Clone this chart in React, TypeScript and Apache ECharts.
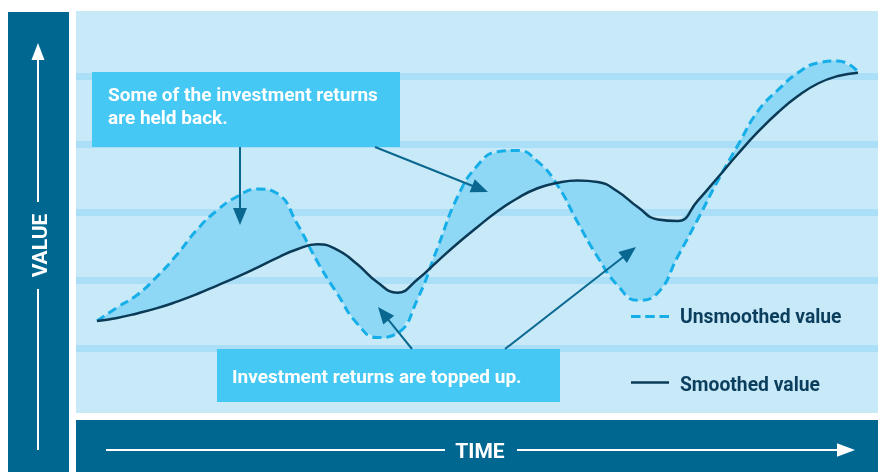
import React, { useEffect, useRef } from 'react';
import * as echarts from 'echarts';

// ---- data ----
const seriesNames = ['Unsmoothed value', 'Smoothed value'];
const unsmoothedValue = [
  14.04, 16.03, 17.87, 20.59, 23.82, 27.49, 30.32, 32.35, 33.46, 32.79,
  28.31, 22.79, 18.04, 13.65, 11.62, 12.25, 17.24, 24.78, 32.28, 36.91,
  38.94, 39.12, 37.53, 33.97, 28.56, 23.46, 19.26, 17.09, 18.16, 23.53,
  29.0, 34.68, 39.88, 44.9, 48.01, 50.54, 51.99, 52.28, 50.71,
];
const smoothedValue = [
  14.04, 14.49, 15.16, 15.93, 16.9, 18.01, 19.26, 20.54, 21.91, 23.34,
  24.59, 25.32, 24.51, 22.38, 19.74, 18.21, 20.15, 22.82, 25.44, 27.87,
  30.18, 32.1, 33.57, 34.37, 34.71, 34.49, 33.09, 30.81, 28.97, 28.75,
  31.76, 35.15, 38.6, 41.84, 44.71, 47.13, 48.97, 50.07, 50.56,
];
const timeIndex = unsmoothedValue.map((_, i) => i);
const valueAxisMax = 60;
const valueAxisInterval = 10;
const heldBackLines = ['Some of the investment returns', 'are held back.'];
const toppedUpText = 'Investment returns are topped up.';
const valueTitle = 'VALUE';
const timeTitle = 'TIME';

// ---- colours ----
const BAR = '#006890';
const PLOT_BG = '#c7e9f8';
const STRIPE = '#aadff7';
const FILL = '#8fd8f5';
const DASH = '#16aee8';
const SOLID = '#0b3a57';
const CALLOUT = '#45c8f4';
const ARROW = '#0a6890';
const LEGEND_TEXT = '#0b3d5c';
const FONT = 'Roboto';

function arrow(x1: number, y1: number, x2: number, y2: number, color: string, lw: number, headLen: number, headHalf: number, z: number) {
  const dx = x2 - x1;
  const dy = y2 - y1;
  const L = Math.hypot(dx, dy);
  const ux = dx / L;
  const uy = dy / L;
  const bx = x2 - ux * headLen;
  const by = y2 - uy * headLen;
  const px = -uy;
  const py = ux;
  return [
    { type: 'line', z, silent: true, shape: { x1, y1, x2: bx + ux * 2, y2: by + uy * 2 }, style: { stroke: color, lineWidth: lw } },
    {
      type: 'polygon', z, silent: true,
      shape: { points: [[x2, y2], [bx + px * headHalf, by + py * headHalf], [bx - px * headHalf, by - py * headHalf]] },
      style: { fill: color },
    },
  ];
}

function txt(x: number, y: number, text: string, size: number, color: string, align: string, z: number, rotation = 0) {
  return {
    type: 'text', x, y, z, rotation, silent: true,
    style: {
      text, fill: color, fontSize: size, fontWeight: 'bold', fontFamily: FONT,
      align, verticalAlign: 'middle', textAlign: align, textVerticalAlign: 'middle',
    },
  };
}

export default function App() {
  const ref = useRef<HTMLDivElement>(null);
  useEffect(() => {
    const chart = echarts.init(ref.current!, null, { renderer: 'svg', width: 878, height: 472 });
    const graphic: any[] = [
      // frames
      { type: 'rect', z: -10, silent: true, shape: { x: 76, y: 11, width: 802, height: 402 }, style: { fill: PLOT_BG } },
      { type: 'rect', z: 20, silent: true, shape: { x: 8, y: 12, width: 61, height: 460 }, style: { fill: BAR } },
      { type: 'rect', z: 20, silent: true, shape: { x: 76, y: 420, width: 802, height: 52 }, style: { fill: BAR } },
      // VALUE axis title
      { type: 'line', z: 21, silent: true, shape: { x1: 38, y1: 450, x2: 38, y2: 289 }, style: { stroke: '#fff', lineWidth: 2 } },
      ...arrow(38, 202, 38, 43, '#fff', 2, 17, 6.5, 21),
      txt(39.6, 245.5, valueTitle, 21, '#fff', 'center', 21, Math.PI / 2),
      // TIME axis title
      { type: 'line', z: 21, silent: true, shape: { x1: 106, y1: 450, x2: 445, y2: 450 }, style: { stroke: '#fff', lineWidth: 2 } },
      ...arrow(517, 450, 855, 450, '#fff', 2, 18, 6.7, 21),
      txt(480, 451, timeTitle, 21, '#fff', 'center', 21),
      // callouts
      { type: 'rect', z: 10, silent: true, shape: { x: 92, y: 72, width: 308, height: 75 }, style: { fill: CALLOUT } },
      txt(108, 94.5, heldBackLines[0], 19, '#fff', 'left', 11),
      txt(108, 117.5, heldBackLines[1], 19, '#fff', 'left', 11),
      { type: 'rect', z: 10, silent: true, shape: { x: 217, y: 349, width: 343, height: 53 }, style: { fill: CALLOUT } },
      txt(232, 376.5, toppedUpText, 19, '#fff', 'left', 11),
      // annotation arrows
      ...arrow(240, 147, 240, 225, ARROW, 2, 17, 7, 12),
      ...arrow(375, 147, 488, 192, ARROW, 2, 17, 7, 12),
      ...arrow(412, 349, 378, 307, ARROW, 2, 17, 7, 12),
      ...arrow(505, 349, 636, 247, ARROW, 2, 17, 7, 12),
      // legend
      { type: 'line', z: 12, silent: true, shape: { x1: 631, y1: 316.5, x2: 669, y2: 316.5 }, style: { stroke: DASH, lineWidth: 3, lineDash: [9.5, 4.75] } },
      txt(680, 316.2, seriesNames[0], 19.3, LEGEND_TEXT, 'left', 12),
      { type: 'line', z: 12, silent: true, shape: { x1: 631, y1: 382.5, x2: 669, y2: 382.5 }, style: { stroke: SOLID, lineWidth: 2.5 } },
      txt(680, 384, seriesNames[1], 19.3, LEGEND_TEXT, 'left', 12),
    ];

    const option: any = {
      animation: false,
      grid: [
        { left: 97, right: 20, top: 8.5, bottom: 55.5 },
        { left: 76, right: 0, top: 8.5, bottom: 55.5 },
      ],
      xAxis: [
        { type: 'value', gridIndex: 0, min: 0, max: timeIndex.length - 1, show: false },
        { type: 'value', gridIndex: 1, min: 0, max: 1, show: false },
      ],
      yAxis: [
        { type: 'value', gridIndex: 0, min: 0, max: valueAxisMax, interval: valueAxisInterval, show: false },
        {
          type: 'value', gridIndex: 1, min: 0, max: valueAxisMax, interval: valueAxisInterval,
          axisLine: { show: false }, axisTick: { show: false }, axisLabel: { show: false },
          splitLine: { show: true, showMinLine: false, showMaxLine: false, lineStyle: { color: STRIPE, width: 7 } },
        },
      ],
      graphic: { elements: graphic },
      series: [
        {
          type: 'custom',
          name: 'gap',
          xAxisIndex: 0, yAxisIndex: 0,
          z: 1, silent: true,
          data: [[0, 0]],
          renderItem: (_params: any, api: any) => {
            const pts: number[][] = [];
            timeIndex.forEach((t) => pts.push(api.coord([t, unsmoothedValue[t]])));
            for (let k = timeIndex.length - 1; k >= 0; k--) pts.push(api.coord([timeIndex[k], smoothedValue[k]]));
            return { type: 'polygon', shape: { points: pts, smooth: 0.3 }, style: { fill: FILL } };
          },
        },
        {
          type: 'line', name: seriesNames[0], xAxisIndex: 0, yAxisIndex: 0, z: 2,
          data: timeIndex.map((t) => [t, unsmoothedValue[t]]),
          smooth: 0.5, symbol: 'none', silent: true,
          lineStyle: { color: DASH, width: 3, type: [9, 5] },
        },
        {
          type: 'line', name: seriesNames[1], xAxisIndex: 0, yAxisIndex: 0, z: 3,
          data: timeIndex.map((t) => [t, smoothedValue[t]]),
          smooth: 0.5, symbol: 'none', silent: true,
          lineStyle: { color: SOLID, width: 2.5 },
        },
      ],
    };
    chart.setOption(option);
    return () => chart.dispose();
  }, []);
  return <div ref={ref} style={{ position: 'fixed', left: 0, top: 0, width: 878, height: 472 }} />;
}
